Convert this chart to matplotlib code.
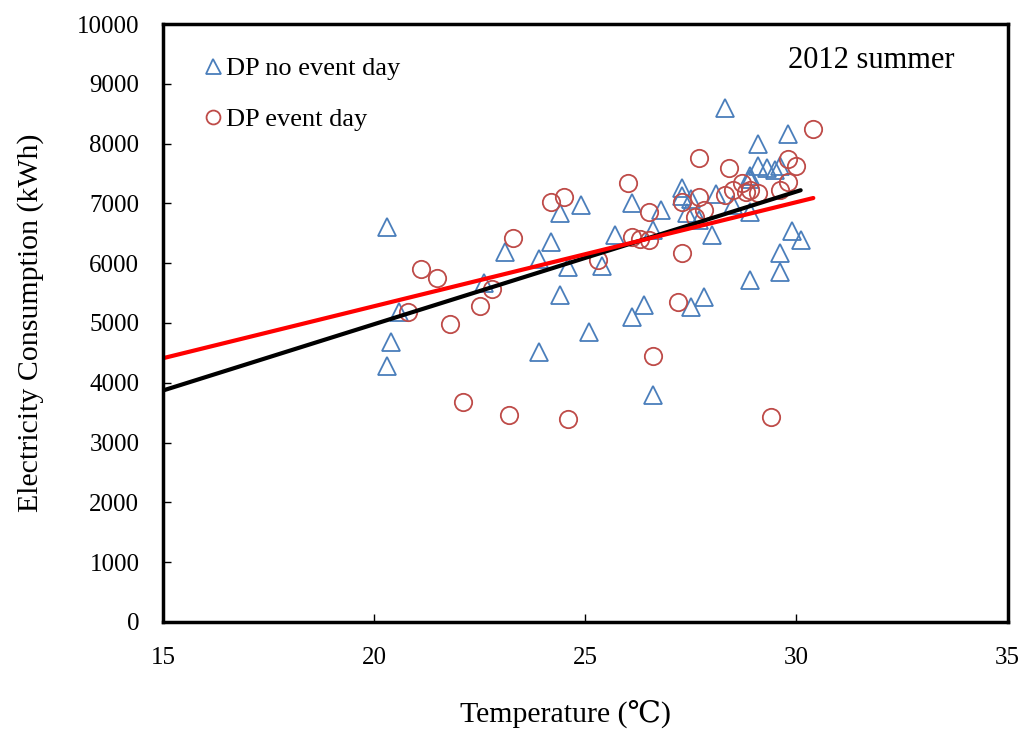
import matplotlib
matplotlib.use("Agg")
import matplotlib.pyplot as plt

# DP no event day (temperature, consumption)
no_event_temp = [20.3, 20.4, 20.3, 20.6, 22.6, 23.1, 23.9, 23.9, 24.2, 24.4, 24.4, 24.6,
                 24.9, 25.1, 25.4, 25.7, 26.1, 26.1, 28.3, 29.8, 29.1, 29.1, 29.3, 29.5,
                 29.6, 28.9, 28.9, 26.8, 27.3, 27.3, 27.5, 28.1, 28.5, 28.9, 27.4, 27.7,
                 26.6, 28.0, 29.9, 30.1, 29.6, 29.6, 28.9, 27.8, 26.4, 27.5, 26.6]
no_event_kwh = [6600, 4680, 4280, 5180, 5670, 6190, 6070, 4520, 6350, 6840, 5470, 5940,
                6970, 4850, 5950, 6470, 7000, 5100, 8590, 8160, 7990, 7620, 7600, 7560,
                7620, 7460, 7410, 6890, 7260, 7120, 7080, 7160, 6970, 6860, 6840, 6720,
                6560, 6470, 6540, 6390, 6170, 5850, 5720, 5430, 5300, 5270, 3800]

# DP event day (temperature, consumption)
event_temp = [21.1, 21.5, 20.8, 22.8, 22.5, 21.8, 23.3, 22.1, 23.2, 24.6, 24.2, 24.5,
              25.3, 26.0, 26.1, 26.3, 26.5, 26.5, 27.3, 27.2, 26.6, 29.4, 27.7, 28.4,
              27.3, 27.7, 27.8, 27.6, 28.3, 28.5, 28.7, 28.8, 28.9, 29.1, 29.8, 30.0,
              29.8, 29.6, 30.4]
event_kwh = [5900, 5750, 5180, 5570, 5280, 4980, 6420, 3680, 3460, 3390, 7020, 7100,
             6050, 7340, 6440, 6400, 6390, 6860, 6170, 5350, 4450, 3430, 7760, 7590,
             7020, 7110, 6890, 6770, 7140, 7220, 7340, 7190, 7220, 7170, 7740, 7620,
             7360, 7220, 8240]

# trend lines (endpoints)
black_fit_temp = [15, 30.1]
black_fit_kwh = [3870, 7220]
red_fit_temp = [15, 30.4]
red_fit_kwh = [4410, 7090]

x_ticks = [15, 20, 25, 30, 35]
y_ticks = list(range(0, 10001, 1000))

plt.rcParams['font.family'] = ['Liberation Serif', 'DejaVu Serif']

blue = '#4A7EBB'
red = '#BE4B48'

fig = plt.figure(figsize=(10.25, 7.29), dpi=100)
ax = fig.add_axes([0.159, 0.147, 0.824, 0.820])

ax.plot(no_event_temp, no_event_kwh, linestyle='none', marker='^', markersize=13.5,
        markerfacecolor='none', markeredgecolor=blue, markeredgewidth=1.3,
        label='DP no event day')
ax.plot(event_temp, event_kwh, linestyle='none', marker='o', markersize=12.5,
        markerfacecolor='none', markeredgecolor=red, markeredgewidth=1.3,
        label='DP event day')
ax.plot(black_fit_temp, black_fit_kwh, color='black', linewidth=3, solid_capstyle='round')
ax.plot(red_fit_temp, red_fit_kwh, color='#FF0000', linewidth=3, solid_capstyle='round')

ax.set_xlim(15, 35)
ax.set_ylim(0, 10000)
ax.set_xticks(x_ticks)
ax.set_yticks(y_ticks)
ax.tick_params(direction='in', length=6, width=1, labelsize=18)
ax.tick_params(axis='y', pad=17)
ax.tick_params(axis='x', pad=18)
for s in ax.spines.values():
    s.set_linewidth(2.5)

ax.set_xlabel('Temperature (\u2103)', fontsize=21.5, labelpad=22)
ax.xaxis.label.set_x(0.476)
ax.set_ylabel('Electricity Consumption (kWh)', fontsize=21.5, labelpad=24)

ax.text(0.937, 0.939, '2012 summer', transform=ax.transAxes, fontsize=22,
        ha='right', va='center')

leg = ax.legend(loc='upper left', bbox_to_anchor=(0.022, 0.985), frameon=False,
                fontsize=19, handlelength=0.6, handletextpad=0.2, labelspacing=1.05,
                markerscale=0.8)

fig.savefig('out.png', dpi=100)
